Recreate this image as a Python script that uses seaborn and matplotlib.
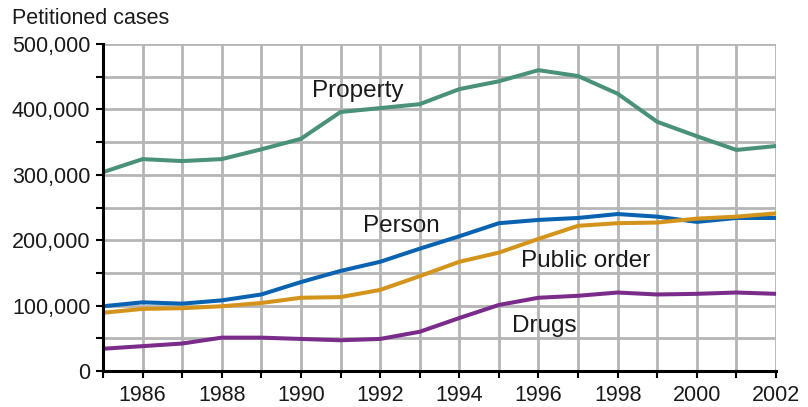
import matplotlib
matplotlib.use("Agg")
import matplotlib.pyplot as plt
import seaborn as sns
import pandas as pd
from matplotlib.ticker import FuncFormatter, MultipleLocator

years = list(range(1985, 2003))
property_cases = [304000, 324000, 321000, 324000, 339000, 355000, 396000, 402000, 408000,
                  431000, 443000, 460000, 451000, 424000, 381000, 359000, 338000, 344000]
person_cases = [99000, 105000, 103000, 108000, 117000, 136000, 153000, 167000, 187000,
                206000, 226000, 231000, 234000, 240000, 236000, 228000, 234000, 234000]
public_order_cases = [89000, 95000, 96000, 99000, 104000, 112000, 113000, 124000, 145000,
                      167000, 181000, 202000, 222000, 226000, 227000, 233000, 236000, 241000]
drugs_cases = [34000, 38000, 42000, 51000, 51000, 49000, 47000, 49000, 60000,
               81000, 101000, 112000, 115000, 120000, 117000, 118000, 120000, 118000]

series_names = ["Property", "Person", "Public order", "Drugs"]
colors = ["#4a9179", "#0a63b1", "#d4941c", "#7b2c8a"]

df = pd.concat([
    pd.DataFrame({"year": years, "cases": vals, "offense": name})
    for name, vals in zip(series_names, [property_cases, person_cases, public_order_cases, drugs_cases])
])

sns.set_style("white")
plt.rcParams['font.family'] = ['Liberation Sans', 'DejaVu Sans']

fig = plt.figure(figsize=(8.08, 4.07), dpi=100)
ax = fig.add_axes([103/808, 36/407, (776-103)/808, (371-44)/407])

sns.lineplot(data=df, x="year", y="cases", hue="offense", palette=dict(zip(series_names, colors)),
             linewidth=2.9, ax=ax, legend=False, zorder=3)

ax.set_xlim(1985, 2002)
ax.set_ylim(0, 500000)
ax.xaxis.set_major_locator(MultipleLocator(1))
ax.yaxis.set_major_locator(MultipleLocator(50000))
ax.xaxis.set_major_formatter(FuncFormatter(lambda v, p: f"{int(round(v))}" if int(round(v)) % 2 == 0 else ""))
ax.yaxis.set_major_formatter(FuncFormatter(lambda v, p: f"{int(round(v)):,}" if int(round(v)) % 100000 == 0 else ""))
ax.grid(True, color="#b5b5b5", linewidth=2.0, zorder=0)
ax.set_axisbelow(True)
for s in ["top", "right"]:
    ax.spines[s].set_visible(False)
for s in ["left", "bottom"]:
    ax.spines[s].set_color("black")
    ax.spines[s].set_linewidth(2.2)
    ax.spines[s].set_zorder(4)
ax.tick_params(axis="both", which="major", direction="out", length=5, width=1.5,
               color="black", labelsize=15.5, labelcolor="#1a1a1a", pad=4, bottom=True, left=True)
ax.tick_params(axis="x", pad=5)
ax.set_xlabel("")
ax.set_ylabel("")

fig.text(12/808, 1 - 19/407, "Petitioned cases", fontsize=15.5, color="#1a1a1a", va="center", ha="left")

labels = [("Property", 1990.27, 419000), ("Person", 1991.56, 212500),
          ("Public order", 1995.55, 159000), ("Drugs", 1995.33, 59600)]
for txt, x, y in labels:
    ax.text(x, y, txt, fontsize=17.5, color="#1a1a1a", ha="left", va="baseline", zorder=5)

fig.savefig("out.png", dpi=100)
